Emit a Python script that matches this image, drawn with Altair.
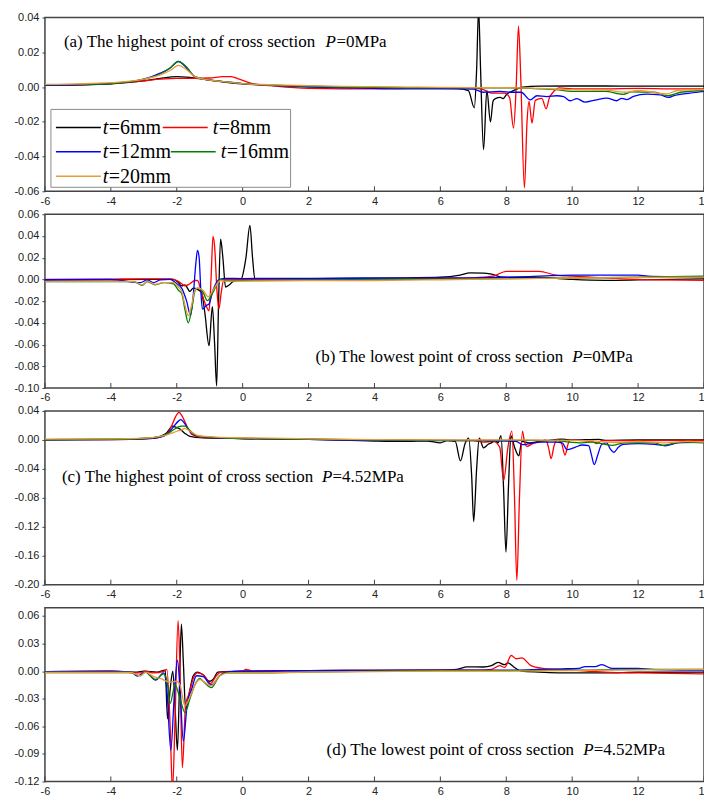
import altair as alt
import pandas as pd

SERIES = ["t=6mm", "t=8mm", "t=12mm", "t=16mm", "t=20mm"]
COLORS = ["#000000", "#ff0000", "#0000ff", "#008000", "#e8993a"]
X_TICKS = [-6, -4, -2, 0, 2, 4, 6, 8, 10, 12, 14]

# ---- (a) highest point, P = 0 MPa ----
A_T6 = [(-6, 0.001), (-5, 0.0012), (-4, 0.0018), (-3, 0.0035), (-2.5, 0.005), (-2.0, 0.006),
        (-1.6, 0.0055), (-1.2, 0.0045), (-0.8, 0.0035), (0, 0.0018), (1, 0.001), (2, 0.0005),
        (3, 0.0), (4, -0.0003), (5, -0.0005), (6, -0.0006), (6.5, -0.0008), (6.85, -0.002),
        (7.03, -0.012), (7.1, 0.01), (7.16, 0.045), (7.22, 0.01), (7.31, -0.036), (7.41, -0.002),
        (7.52, -0.020), (7.6, -0.008), (7.67, -0.0067), (7.82, -0.006), (7.9, -0.0067),
        (8.02, -0.004), (8.17, -0.0025), (8.5, 0.0), (9, 0.0005), (10, 0.0006), (11, 0.0006),
        (12, 0.0005), (13, 0.0005), (14, 0.0005)]
A_T8 = [(-6, 0.001), (-5, 0.0013), (-4, 0.002), (-3, 0.0035), (-2.5, 0.0045), (-2, 0.005),
        (-1.5, 0.005), (-1.0, 0.0052), (-0.6, 0.006), (-0.35, 0.006), (-0.1, 0.0045), (0.3, 0.002),
        (1, 0.0005), (2, -0.0008), (3, -0.001), (4, -0.001), (5, -0.0008), (6, -0.0007),
        (7, -0.0005), (7.3, -0.0015), (7.55, -0.0035), (7.95, -0.0035), (8.1, -0.006),
        (8.22, -0.0236), (8.3, 0.0), (8.37, 0.035), (8.44, 0.005), (8.55, -0.058), (8.63, -0.02),
        (8.69, -0.0083), (8.78, -0.0207), (8.88, -0.0077), (9.08, -0.0065), (9.21, -0.0125),
        (9.31, -0.006), (9.38, -0.004), (9.6, -0.0005), (10, -0.001), (11, -0.001),
        (12, -0.0008), (13, -0.001), (14, -0.001)]
A_T12 = [(-6, 0.001), (-5, 0.0013), (-4, 0.002), (-3, 0.0045), (-2.5, 0.008), (-2.2, 0.011),
         (-1.95, 0.0147), (-1.7, 0.011), (-1.45, 0.006), (-1.0, 0.004), (-0.5, 0.003), (0, 0.002),
         (1, 0.0008), (2, 0.0), (3, -0.0005), (4, -0.0008), (5, -0.001), (6, -0.001),
         (7.0, -0.0012), (7.3, -0.003), (7.8, -0.0025), (8.2, -0.003), (8.45, -0.003),
         (8.73, -0.0074), (8.93, -0.005), (9.23, -0.0055), (9.53, -0.005), (9.74, -0.0055),
         (9.94, -0.0079), (10.14, -0.0067), (10.39, -0.0087), (10.7, -0.0075), (11.05, -0.0064),
         (11.35, -0.0079), (11.5, -0.0065), (11.66, -0.0072), (11.86, -0.0054), (12.26, -0.0041),
         (12.67, -0.0045), (12.92, -0.006), (13.07, -0.0051), (13.58, -0.0035), (14, -0.0025)]
A_T16 = [(-6, 0.0012), (-5, 0.0015), (-4, 0.002), (-3, 0.0045), (-2.5, 0.0075), (-2.2, 0.011),
         (-1.95, 0.0148), (-1.7, 0.0115), (-1.45, 0.006), (-1.0, 0.004), (-0.5, 0.003), (0, 0.002),
         (1, 0.001), (2, 0.0004), (3, 0.0), (4, -0.0002), (5, -0.0004), (6, -0.0005),
         (7, -0.0005), (8, -0.0005), (9, -0.001), (9.5, -0.0015), (10, -0.0025), (11, -0.0025),
         (11.55, -0.0042), (11.8, -0.0028), (12.5, -0.003), (12.9, -0.005), (13.3, -0.003),
         (14, -0.002)]
A_T20 = [(-6, 0.0015), (-5, 0.0018), (-4, 0.0025), (-3, 0.0045), (-2.5, 0.007), (-2.2, 0.0095),
         (-1.95, 0.0125), (-1.7, 0.01), (-1.45, 0.006), (-1.0, 0.004), (-0.5, 0.003), (0, 0.002),
         (1, 0.0012), (2, 0.0008), (3, 0.0004), (4, 0.0002), (5, 0.0), (6, -0.0002),
         (7, -0.0003), (8, -0.0003), (9, -0.0008), (10, -0.0015), (11, -0.0018), (11.6, -0.003),
         (12, -0.002), (12.85, -0.004), (13.2, -0.002), (14, -0.0015)]

# ---- (b) lowest point, P = 0 MPa ----
B_T6 = [(-6, -0.0005), (-4, -0.0003), (-3, 0.0), (-2.1, 0.0), (-1.95, -0.003), (-1.85, -0.006),
        (-1.75, -0.005), (-1.6, -0.011), (-1.5, -0.008), (-1.38, -0.009), (-1.25, -0.012),
        (-1.15, -0.03), (-1.02, -0.061), (-0.92, -0.025), (-0.85, -0.06), (-0.79, -0.098),
        (-0.73, -0.02), (-0.67, 0.037), (-0.6, 0.02), (-0.52, -0.007), (-0.4, -0.005),
        (-0.3, -0.002), (-0.05, 0.0), (0.1, 0.02), (0.22, 0.0498), (0.3, 0.02), (0.37, 0.0005),
        (1, 0.0005), (3, 0.001), (5, 0.0015), (6, 0.002), (6.6, 0.004), (6.9, 0.006),
        (7.3, 0.0058), (7.55, 0.0048), (7.9, 0.002), (9, 0.0018), (10, 0.0), (11, -0.0008),
        (12, -0.0005), (14, 0.0005)]
B_T8 = [(-6, 0.0), (-4, 0.0003), (-3, 0.0005), (-2.2, 0.0005), (-2.0, -0.001), (-1.85, -0.004),
        (-1.75, -0.006), (-1.6, -0.004), (-1.45, -0.001), (-1.37, -0.001), (-1.25, -0.012),
        (-1.1, -0.025), (-1.02, -0.029), (-0.96, 0.0), (-0.9, 0.0396), (-0.85, 0.03),
        (-0.78, -0.01), (-0.72, -0.0273), (-0.65, -0.012), (-0.57, 0.0), (0, 0.0), (2, 0.0003),
        (5, 0.0008), (6, 0.001), (7, 0.0015), (7.6, 0.003), (8.0, 0.0075), (9.0, 0.0075),
        (9.5, 0.004), (10, 0.003), (11, 0.0015), (12, 0.0), (14, -0.0008)]
B_T12 = [(-6, -0.0003), (-4, 0.0), (-3.1, -0.003), (-2.9, -0.0005), (-2.7, -0.003),
         (-2.5, -0.0005), (-2.2, 0.0), (-2.0, -0.004), (-1.85, -0.008), (-1.7, -0.02),
         (-1.58, -0.033), (-1.5, -0.015), (-1.42, 0.015), (-1.37, 0.0267), (-1.32, 0.02),
         (-1.27, -0.01), (-1.22, -0.0273), (-1.1, -0.024), (-1.02, -0.0226), (-0.9, -0.01),
         (-0.7, 0.0), (-0.5, 0.001), (0, 0.0008), (2, 0.001), (5, 0.0012), (7, 0.0015),
         (8, 0.002), (9, 0.003), (10, 0.004), (11, 0.004), (12, 0.004), (12.3, 0.003),
         (13, 0.0025), (14, 0.0022)]
B_T16 = [(-6, -0.002), (-4, -0.002), (-3.3, -0.002), (-3.05, -0.0055), (-2.9, -0.002),
         (-2.65, -0.005), (-2.4, -0.003), (-2.1, -0.004), (-1.95, -0.01), (-1.85, -0.013),
         (-1.75, -0.028), (-1.65, -0.040), (-1.55, -0.028), (-1.45, -0.011), (-1.37, -0.008),
         (-1.2, -0.012), (-1.07, -0.0196), (-0.9, -0.012), (-0.67, 0.0), (-0.5, -0.001),
         (0, -0.001), (2, -0.0005), (4, 0.0), (6, 0.0003), (9, 0.001), (12, 0.002), (14, 0.003)]
B_T20 = [(-6, -0.002), (-4, -0.0018), (-3.3, -0.002), (-3.05, -0.005), (-2.9, -0.002),
         (-2.65, -0.0045), (-2.4, -0.003), (-2.1, -0.003), (-1.95, -0.007), (-1.85, -0.011),
         (-1.75, -0.024), (-1.65, -0.0334), (-1.55, -0.024), (-1.45, -0.01), (-1.37, -0.008),
         (-1.2, -0.01), (-1.05, -0.016), (-0.9, -0.01), (-0.67, -0.001), (-0.5, -0.0015),
         (0, -0.0015), (2, -0.0012), (4, -0.001), (6, -0.0003), (9, 0.001), (12, 0.0018),
         (14, 0.0022)]

# ---- (c) highest point, P = 4.52 MPa ----
C_T6 = [(-6, 0.0005), (-4, 0.001), (-3, 0.002), (-2.5, 0.005), (-2.3, 0.01), (-2.13, 0.019),
        (-2.0, 0.017), (-1.9, 0.015), (-1.75, 0.009), (-1.6, 0.005), (-1.2, 0.003), (0, 0.002),
        (2, 0.0008), (4, -0.0015), (5, -0.002), (5.6, -0.0015), (6.0, -0.004), (6.2, -0.001),
        (6.45, -0.002), (6.61, -0.029), (6.75, -0.005), (6.86, 0.0026), (6.95, -0.05),
        (7.01, -0.113), (7.1, -0.04), (7.18, 0.0026), (7.31, -0.011), (7.45, -0.006),
        (7.55, -0.004), (7.67, -0.001), (7.75, -0.004), (7.84, 0.006), (7.92, -0.07),
        (7.99, -0.155), (8.07, -0.06), (8.14, 0.006), (8.25, -0.01), (8.38, -0.022),
        (8.47, -0.002), (8.7, -0.004), (9, -0.002), (9.5, 0.0005), (9.7, 0.001), (10, 0.0),
        (10.8, 0.0008), (11, -0.0005), (12, 0.0), (13, 0.0), (14, 0.0)]
C_T8 = [(-6, 0.0), (-4, 0.0005), (-3, 0.0015), (-2.5, 0.004), (-2.3, 0.008), (-2.15, 0.02),
        (-2.0, 0.035), (-1.93, 0.038), (-1.85, 0.034), (-1.7, 0.02), (-1.55, 0.008),
        (-1.3, 0.004), (-0.8, 0.003), (0, 0.002), (2, 0.0008), (4, 0.0), (6, -0.0005),
        (7, -0.001), (7.3, -0.003), (7.6, -0.002), (7.8, -0.01), (7.92, -0.056), (8.05, -0.01),
        (8.17, 0.0123), (8.25, -0.08), (8.32, -0.194), (8.4, -0.08), (8.49, 0.012),
        (8.55, -0.002), (8.63, -0.009), (8.8, -0.005), (9.0, -0.003), (9.2, 0.0), (9.28, -0.01),
        (9.36, -0.0258), (9.45, -0.008), (9.55, 0.0), (9.68, -0.005), (9.78, -0.021),
        (9.88, -0.005), (9.95, 0.0), (10.3, -0.001), (10.6, -0.002), (10.75, -0.005),
        (10.9, -0.001), (12, -0.001), (14, -0.0005)]
C_T12 = [(-6, 0.0), (-4, 0.0005), (-3, 0.0015), (-2.5, 0.004), (-2.3, 0.008), (-2.1, 0.018),
         (-1.95, 0.026), (-1.88, 0.028), (-1.78, 0.024), (-1.65, 0.015), (-1.5, 0.008),
         (-1.3, 0.005), (-0.8, 0.003), (0, 0.002), (2, 0.0008), (4, -0.0005), (6, -0.001),
         (7, -0.001), (8, -0.0015), (8.3, -0.002), (8.5, -0.0066), (8.7, -0.005), (9.0, -0.003),
         (9.5, -0.003), (9.7, -0.004), (9.84, -0.0135), (10.1, -0.01), (10.3, -0.007),
         (10.5, -0.008), (10.58, -0.02), (10.67, -0.034), (10.78, -0.02), (10.9, -0.006),
         (11.05, -0.004), (11.15, -0.012), (11.27, -0.017), (11.4, -0.01), (11.55, -0.006),
         (12, -0.005), (12.5, -0.006), (12.82, -0.008), (13.2, -0.004), (14, -0.003)]
C_T16 = [(-6, 0.0), (-4, 0.0007), (-3, 0.002), (-2.5, 0.005), (-2.3, 0.008), (-2.1, 0.014),
         (-1.95, 0.018), (-1.85, 0.019), (-1.75, 0.019), (-1.6, 0.013), (-1.4, 0.006),
         (-1.0, 0.004), (0, 0.002), (2, 0.001), (4, 0.0), (6, -0.0005), (8, -0.0005),
         (9, -0.0008), (9.5, -0.001), (9.9, -0.003), (10.3, -0.004), (10.6, -0.003),
         (11.2, -0.0075), (11.6, -0.004), (12.5, -0.004), (12.75, -0.0075), (13.3, -0.003),
         (14, -0.004)]
C_T20 = [(-6, 0.001), (-4, 0.0015), (-3, 0.0025), (-2.5, 0.005), (-2.3, 0.007), (-2.0, 0.012),
         (-1.85, 0.014), (-1.75, 0.016), (-1.6, 0.012), (-1.35, 0.006), (-0.8, 0.004),
         (0, 0.003), (2, 0.0015), (4, 0.0005), (6, 0.0), (8, 0.0), (10, -0.0005),
         (10.5, -0.001), (11.35, -0.0035), (12, -0.002), (12.8, -0.004), (13.5, -0.002),
         (14, -0.003)]

# ---- (d) lowest point, P = 4.52 MPa ----
D_T6 = [(-6, -0.0005), (-4, 0.0), (-3.2, -0.001), (-3.0, 0.0), (-2.6, -0.001), (-2.35, 0.001),
        (-2.28, -0.052), (-2.2, -0.02), (-2.12, 0.0), (-2.05, -0.04), (-1.98, -0.086),
        (-1.92, -0.02), (-1.86, 0.051), (-1.8, 0.01), (-1.73, -0.042), (-1.6, -0.02),
        (-1.5, -0.005), (-1.37, -0.001), (-1.2, -0.004), (-1.0, -0.011), (-0.9, -0.009),
        (-0.75, -0.001), (0, 0.0), (2, 0.0005), (4, 0.0008), (6, 0.0012), (6.5, 0.002),
        (6.81, 0.0046), (7.3, 0.0045), (7.55, 0.006), (7.75, 0.0095), (7.95, 0.007),
        (8.05, 0.009), (8.25, 0.004), (8.45, 0.0), (9, -0.001), (10, -0.002), (11, -0.002),
        (12, -0.0012), (14, -0.001)]
D_T8 = [(-6, -0.0005), (-4, 0.0), (-3.1, -0.002), (-2.95, 0.0), (-2.7, -0.002), (-2.38, 0.0),
        (-2.3, 0.002), (-2.2, -0.06), (-2.13, -0.13), (-2.05, -0.05), (-1.96, 0.055),
        (-1.9, 0.0), (-1.83, -0.105), (-1.73, -0.036), (-1.63, -0.025), (-1.5, -0.008),
        (-1.37, -0.002), (-1.2, -0.004), (-0.97, -0.0134), (-0.8, -0.005), (-0.65, -0.001),
        (0, 0.0), (0.1, 0.002), (0.3, 0.0), (2, 0.0005), (4, 0.0008), (6, 0.001), (7.2, 0.0012),
        (7.55, 0.002), (7.8, 0.006), (7.95, 0.004), (8.15, 0.017), (8.3, 0.0135), (8.47, 0.0145),
        (8.75, 0.006), (9.1, 0.003), (9.5, 0.002), (10, 0.001), (11, -0.001), (12, -0.002),
        (14, -0.003)]
D_T12 = [(-6, -0.0005), (-4, -0.0003), (-3.4, -0.001), (-3.19, -0.0054), (-2.95, -0.001),
         (-2.64, -0.0098), (-2.4, -0.002), (-2.3, -0.02), (-2.18, -0.086), (-2.08, -0.03),
         (-1.98, 0.012), (-1.9, -0.02), (-1.8, -0.076), (-1.68, -0.035), (-1.55, -0.02),
         (-1.4, -0.005), (-1.2, -0.006), (-0.95, -0.015), (-0.7, -0.005), (-0.5, -0.001),
         (0, 0.0), (2, 0.0005), (4, 0.0008), (6, 0.0012), (8.4, 0.0012), (9, 0.002),
         (9.7, 0.0025), (10.2, 0.003), (10.4, 0.005), (10.7, 0.005), (10.9, 0.007),
         (11.2, 0.003), (12, 0.003), (12.4, 0.002), (14, 0.001)]
D_T16 = [(-6, -0.0015), (-4, -0.0015), (-3.4, -0.0015), (-3.1, -0.005), (-2.95, -0.001),
         (-2.65, -0.009), (-2.4, -0.003), (-2.3, -0.01), (-2.2, -0.035), (-2.05, -0.015),
         (-1.9, -0.03), (-1.75, -0.045), (-1.6, -0.03), (-1.45, -0.015), (-1.3, -0.008),
         (-1.2, -0.011), (-0.95, -0.018), (-0.7, -0.005), (-0.5, -0.002), (0.5, -0.002),
         (2, -0.001), (4, 0.0), (6, 0.0005), (8, 0.0005), (10, 0.001), (12, 0.002), (14, 0.002)]
D_T20 = [(-6, -0.0015), (-4, -0.0015), (-3.4, -0.0015), (-3.1, -0.005), (-2.95, -0.001),
         (-2.7, -0.006), (-2.5, -0.008), (-2.2, -0.012), (-2.0, -0.011), (-1.9, -0.015),
         (-1.75, -0.038), (-1.6, -0.028), (-1.4, -0.012), (-1.3, -0.009), (-1.2, -0.011),
         (-0.95, -0.016), (-0.7, -0.005), (-0.4, -0.002), (0.3, -0.002), (2, -0.001),
         (4, -0.0005), (6, 0.0), (8, 0.0), (11, 0.001), (14, 0.002)]

Y_TICKS_A = [-0.06, -0.04, -0.02, 0.00, 0.02, 0.04]
Y_TICKS_B = [-0.10, -0.08, -0.06, -0.04, -0.02, 0.00, 0.02, 0.04, 0.06]
Y_TICKS_C = [-0.20, -0.16, -0.12, -0.08, -0.04, 0.00, 0.04]
Y_TICKS_D = [-0.12, -0.09, -0.06, -0.03, 0.00, 0.03, 0.06]

TAG_A = ["(a) The highest point of cross section", "P", "=0MPa"]
TAG_B = ["(b) The lowest point of cross section", "P", "=0MPa"]
TAG_C = ["(c) The highest point of cross section", "P", "=4.52MPa"]
TAG_D = ["(d) The lowest point of cross section", "P", "=4.52MPa"]

W = 660
H = 174
FRAME = "#444444"
SERIF = "Liberation Serif"
SANS = "Liberation Sans"
COLOR_SCALE = alt.Scale(domain=SERIES, range=COLORS)


def to_frame(curves):
    rows = []
    for name, pts in zip(SERIES, curves):
        for k, (x, y) in enumerate(pts):
            rows.append({"series": name, "x": x, "y": y, "k": k})
    return pd.DataFrame(rows)


def signed(fmt):
    return f"(datum.value < 0 ? '-' : '') + format(abs(datum.value), '{fmt}')"


def text_piece(txt, x, y, size, italic=False, align="left", baseline="alphabetic"):
    return alt.Chart(pd.DataFrame({"s": [txt]})).mark_text(
        align=align, baseline=baseline, font=SERIF, fontSize=size,
        fontStyle="italic" if italic else "normal", color="#000000",
    ).encode(x=alt.value(x), y=alt.value(y), text="s:N")


def tag_layers(tag, x0, xp, xr, y):
    return [text_piece(tag[0], x0, y, 17),
            text_piece(tag[1], xp, y, 17, italic=True),
            text_piece(tag[2], xr, y, 17)]


def legend_layers():
    layers = [alt.Chart(pd.DataFrame({"d": [0]})).mark_rect(
        fill="white", stroke="#8a8a8a", strokeWidth=1
    ).encode(x=alt.value(6), x2=alt.value(246), y=alt.value(92), y2=alt.value(170))]
    for i, name in enumerate(SERIES):
        row, col = divmod(i, 2)
        if col == 0:
            x0 = 11
        else:
            x0 = 118 if row == 0 else 126
        x1 = x0 + 45
        tx = x1 + (2 if col == 0 else 5)
        yc = 110 + row * 24.5
        layers.append(alt.Chart(pd.DataFrame({"d": [0]})).mark_rule(
            color=COLORS[i], strokeWidth=1.5
        ).encode(x=alt.value(x0), x2=alt.value(x1), y=alt.value(yc)))
        layers.append(text_piece(name[0], tx, yc + 6.5, 20, italic=True))
        layers.append(text_piece(name[1:], tx + 6, yc + 6.5, 20))
    return layers


def panel(curves, y_dom, y_ticks, extra):
    xs = alt.Scale(domain=[-6, 14], nice=False, zero=False)
    ys = alt.Scale(domain=y_dom, nice=False, zero=False)
    lines = alt.Chart(to_frame(curves)).mark_line(
        strokeWidth=1.3, clip=True, interpolate="monotone"
    ).encode(
        x=alt.X("x:Q", scale=xs, axis=alt.Axis(
            values=X_TICKS, title=None, ticks=False, domain=False, grid=False,
            labelExpr=signed("d"), labelFont=SANS, labelFontSize=11, labelColor="#222222",
            labelPadding=4, labelFlush=False, labelOverlap=False)),
        y=alt.Y("y:Q", scale=ys, axis=alt.Axis(
            values=y_ticks, title=None, domain=False, grid=False, tickSize=3,
            tickColor=FRAME, labelExpr=signed(".2f"), labelFont=SANS, labelFontSize=11,
            labelColor="#222222", labelPadding=3, labelOverlap=False)),
        color=alt.Color("series:N", scale=COLOR_SCALE, legend=None),
        order="k:Q",
    )
    ticks = alt.Chart(pd.DataFrame({"v": X_TICKS})).mark_rule(
        color=FRAME, strokeWidth=1
    ).encode(x=alt.X("v:Q", scale=xs), y=alt.value(H), y2=alt.value(H - 5))
    return alt.layer(lines, ticks, *extra).properties(width=W, height=H)


pa = panel([A_T6, A_T8, A_T12, A_T16, A_T20], [-0.06, 0.04], Y_TICKS_A,
           tag_layers(TAG_A, 19, 281, 292, 29) + legend_layers())
pb = panel([B_T6, B_T8, B_T12, B_T16, B_T20], [-0.10, 0.06], Y_TICKS_B,
           tag_layers(TAG_B, 271, 528, 538.5, 148))
pc = panel([C_T6, C_T8, C_T12, C_T16, C_T20], [-0.20, 0.04], Y_TICKS_C,
           tag_layers(TAG_C, 17, 277.5, 288, 71))
pd_ = panel([D_T6, D_T8, D_T12, D_T16, D_T20], [-0.12, 0.069], Y_TICKS_D,
            tag_layers(TAG_D, 282, 539, 549.5, 148))

chart = alt.vconcat(pa, pb, pc, pd_, spacing=23, bounds="flush").properties(
    padding={"left": 13, "top": 10, "right": -7, "bottom": 0},
    background="white",
).configure_view(stroke=FRAME, strokeWidth=1.5)

chart.save("out.html", embed_options={"renderer": "svg", "actions": False})
